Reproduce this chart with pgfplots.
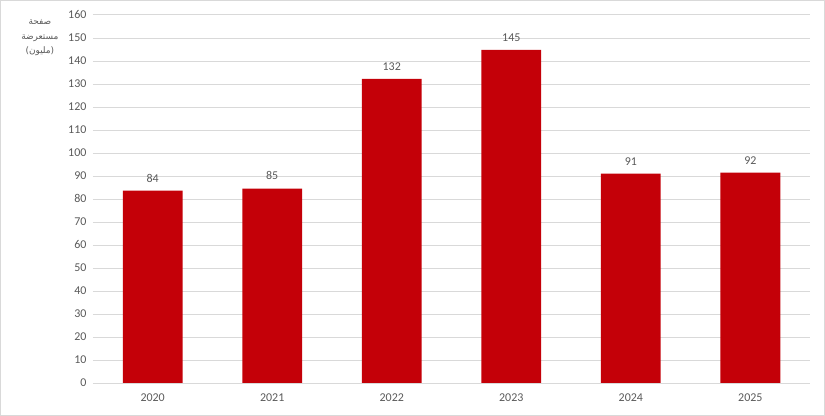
\documentclass[border=0pt]{standalone}
\usepackage{pgfplots}
\pgfplotsset{compat=1.18}
\usepackage{pgfplotstable}
\usepackage{fontspec}
\setmainfont{Carlito}
\newfontfamily\arabicfont[Script=Arabic]{DejaVu Sans}
\TeXXeTstate=1
\definecolor{barred}{HTML}{C40008}
\definecolor{txt}{HTML}{595959}
\definecolor{grd}{HTML}{D9D9D9}
\pgfplotstableread{
x y lab
0 83.6 84
1 84.5 85
2 132.2 132
3 144.8 145
4 91.0 91
5 91.4 92
}\views
\begin{document}
\begin{tikzpicture}[x=1bp,y=1bp]
\draw[grd, line width=0.75bp] (0.5,0.5) rectangle (824.5,415.5);
\begin{axis}[
  at={(93bp,33bp)}, anchor=south west,
  scale only axis, width=717bp, height=368bp,
  xmin=-0.5, xmax=5.5, ymin=0, ymax=160,
  ytick distance=10,
  xtick={0,1,2,3,4,5},
  xticklabels={2020,2021,2022,2023,2024,2025},
  ymajorgrids, grid style={grd, line width=0.75bp},
  axis line style={draw=none},
  major tick length=0pt,
  tick label style={text=txt, font=\fontsize{12}{14}\selectfont},
  /pgf/number format/assume math mode=true,
  yticklabel style={xshift=-3bp},
  xticklabel style={yshift=-7bp},
  clip=false,
]
\draw[grd, line width=0.9bp] (axis cs:-0.5,0) -- (axis cs:5.5,0);
\addplot[ybar, bar width=0.5, fill=barred, draw=none,
  point meta=explicit symbolic,
  nodes near coords,
  every node near coord/.append style={text=txt, font=\fontsize{12}{14}\selectfont, yshift=5bp}]
  table[x=x, y=y, meta=lab] {\views};
\end{axis}
\node[align=center, text=txt, font=\arabicfont\fontsize{9}{14.5}\selectfont] at (40,378)
  {\beginR صفحة\endR\\\beginR مستعرضة\endR\\\beginR (مليون)\endR};
\end{tikzpicture}
\end{document}
